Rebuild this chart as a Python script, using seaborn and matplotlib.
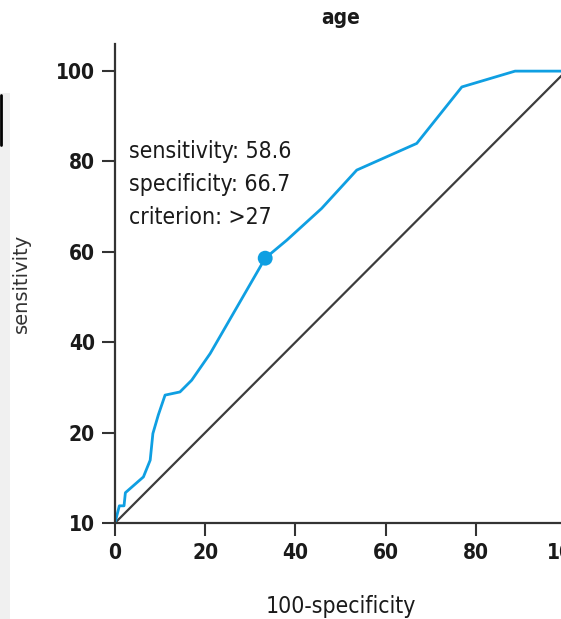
import matplotlib
matplotlib.use("Agg")
import matplotlib.pyplot as plt
import seaborn as sns
import pandas as pd
from matplotlib.patches import Rectangle
from matplotlib.lines import Line2D

# ---- data ----
fpr = [0, 0.96, 2.0, 2.3, 6.3, 7.8, 8.4, 9.6, 11.1, 14.4, 17.0, 21.1, 33.3,
       38.1, 45.8, 53.6, 66.9, 76.9, 88.7, 100]
tpr = [0, 3.8, 3.8, 6.7, 10.2, 13.9, 19.8, 23.9, 28.3, 29.0, 31.6, 37.5, 58.6,
       62.6, 69.6, 78.1, 84.0, 96.5, 100, 100]
diag_x = [0, 100]
diag_y = [0, 100]
opt_x = [33.3]
opt_y = [58.6]
x_ticks = [0, 20, 40, 60, 80, 100]
x_ticklabels = ["0", "20", "40", "60", "80", "100"]
y_ticks = [0, 20, 40, 60, 80, 100]
y_ticklabels = ["10", "20", "40", "60", "80", "100"]
annot_lines = ["sensitivity: 58.6", "specificity: 66.7", "criterion: >27"]
title = "age"
xlabel = "100-specificity"
ylabel = "sensitivity"

sns.set_style("ticks")
plt.rcParams["font.family"] = ["DejaVu Sans"]
plt.rcParams["font.stretch"] = "condensed"

fig = plt.figure(figsize=(5.61, 6.19), dpi=100)
ax = fig.add_axes([0.205, 0.1551, 0.812, 0.7738])

roc = pd.DataFrame({"x": fpr, "y": tpr})
diag = pd.DataFrame({"x": diag_x, "y": diag_y})
sns.lineplot(data=diag, x="x", y="y", ax=ax, color="#3c3c3c", linewidth=1.6,
             sort=False)
sns.lineplot(data=roc, x="x", y="y", ax=ax, color="#0f9fe2", linewidth=2.0,
             sort=False)
sns.scatterplot(x=opt_x, y=opt_y, ax=ax, color="#0f9fe2", s=115,
                edgecolor="none", zorder=5)

ax.set_xlim(0, 101)
ax.set_ylim(0, 106)
ax.set_xticks(x_ticks)
ax.set_xticklabels(x_ticklabels)
ax.set_yticks(y_ticks)
ax.set_yticklabels(y_ticklabels)
for lab in ax.get_xticklabels() + ax.get_yticklabels():
    lab.set_fontweight("bold")
    lab.set_fontsize(15)
    lab.set_fontstretch("condensed")
    lab.set_color("#1a1a1a")
ax.tick_params(axis="both", direction="out", length=9.5, width=1.5,
               color="#333333", pad=5)
for s in ["top", "right"]:
    ax.spines[s].set_visible(False)
for s in ["left", "bottom"]:
    ax.spines[s].set_linewidth(1.6)
    ax.spines[s].set_color("#333333")

ax.set_xlabel("")
ax.set_ylabel("")
fig.text(0.608, 1 - 606 / 619, xlabel, ha="center", va="center",
         fontsize=16.5, color="#1a1a1a", fontstretch="condensed")
fig.text(0.039, 1 - 283 / 619, ylabel, rotation=90, ha="center", va="center",
         fontsize=14, color="#333333", fontstretch="normal")
fig.text(0.607, 1 - 18 / 619, title, ha="center", va="center", fontsize=15,
         color="#1a1a1a", fontweight="bold", fontstretch="condensed")

ys = [152, 185, 217]
for t, yy in zip(annot_lines, ys):
    fig.text(129 / 561, 1 - yy / 619, t, ha="left", va="center", fontsize=16.5,
             color="#1a1a1a", fontstretch="condensed")

# cropping artefacts at the left edge
fig.patches.append(Rectangle((0, 0), 10 / 561, 1 - 93 / 619,
                             transform=fig.transFigure, facecolor="#f0f0f0",
                             edgecolor="none", zorder=0))
fig.lines.append(Line2D([1.2 / 561, 1.2 / 561], [1 - 95 / 619, 1 - 145 / 619],
                        transform=fig.transFigure, color="black", linewidth=2))

sns.despine(ax=ax)
fig.savefig("out.png", dpi=100)
